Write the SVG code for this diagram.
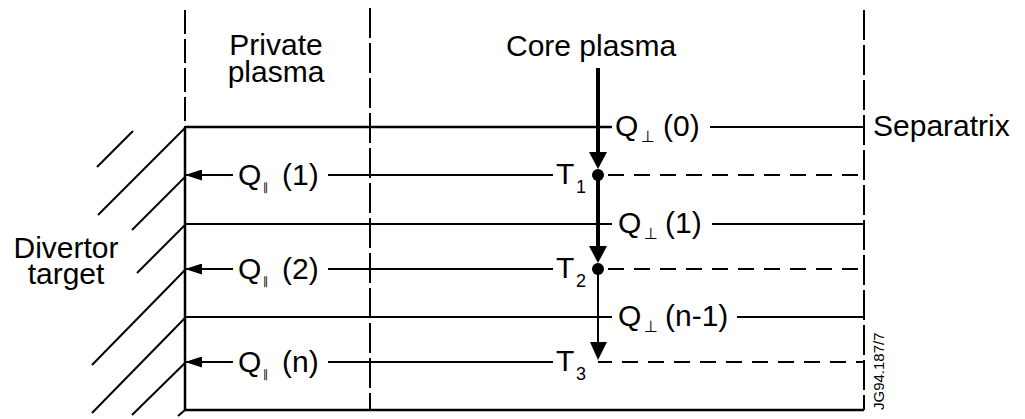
<svg xmlns="http://www.w3.org/2000/svg" width="1025" height="419" viewBox="0 0 1025 419">
<style>
.t{font-family:"Liberation Sans",Arial,sans-serif;font-size:30px;fill:#000}
.sub{font-family:"DejaVu Sans",sans-serif;font-size:16px;fill:#000}
.par{font-family:"DejaVu Sans",sans-serif;font-size:11px;fill:#000}
.ts{font-size:18px;fill:#000}
.s{stroke:#000;fill:none;stroke-width:2}
.sep{stroke:#000;fill:none;stroke-width:2.5}
.dv{stroke:#000;fill:none;stroke-width:2;stroke-dasharray:24 5}
.dh{stroke:#000;fill:none;stroke-width:2;stroke-dasharray:16 10}
</style>
<defs>
<marker id="ah" viewBox="0 0 17 11" refX="16" refY="5.5" markerWidth="17" markerHeight="11" markerUnits="userSpaceOnUse" orient="auto">
<path d="M0,0 L17,5.5 L0,11 Z" fill="#000"/>
</marker>
</defs>

<g id="hatching" class="s">
<line x1="97" y1="167" x2="133" y2="131"/>
<line x1="98" y1="215" x2="185" y2="128"/>
<line x1="132" y1="230" x2="185" y2="177"/>
<line x1="137" y1="273" x2="185" y2="225"/>
<line x1="92" y1="365" x2="185" y2="270"/>
<line x1="92" y1="413" x2="185" y2="318"/>
<line x1="132" y1="415" x2="185" y2="363"/>
<line x1="178" y1="416" x2="185" y2="410"/>
</g>

<g id="boundaries">
<line class="dv" x1="185" y1="10" x2="185" y2="127"/>
<line class="sep" x1="185" y1="127" x2="185" y2="411"/>
<line class="dv" x1="370" y1="8" x2="370" y2="410" style="stroke-dasharray:30 5"/>
<line class="dv" x1="864" y1="10" x2="864" y2="410" style="stroke-dasharray:30 5"/>
</g>

<g id="labels">
<text class="t" text-anchor="middle"><tspan x="276" y="55">Private</tspan><tspan x="276" dy="27">plasma</tspan></text>
<text class="t" x="506" y="56">Core plasma</text>
<text class="t" x="873" y="136">Separatrix</text>
<text class="t" text-anchor="middle"><tspan x="66" y="258">Divertor</tspan><tspan x="66" dy="26">target</tspan></text>
<text class="t" transform="translate(884,410) rotate(-90)" style="font-size:15px">JG94.187/7</text>
</g>

<g id="connectors">
<line class="sep" x1="185" y1="127" x2="612" y2="127"/>
<line class="s" x1="710" y1="127" x2="864" y2="127"/>
<line class="s" x1="185" y1="224" x2="612" y2="224"/>
<line class="s" x1="712" y1="224" x2="864" y2="224"/>
<line class="s" x1="185" y1="317" x2="612" y2="317"/>
<line class="s" x1="737" y1="317" x2="864" y2="317"/>
<line class="sep" x1="185" y1="410" x2="864" y2="410"/>
<line class="s" x1="233" y1="175" x2="186" y2="175" marker-end="url(#ah)"/>
<line class="s" x1="328" y1="175" x2="553" y2="175"/>
<line class="dh" x1="608" y1="175" x2="864" y2="175"/>
<line class="s" x1="233" y1="269" x2="186" y2="269" marker-end="url(#ah)"/>
<line class="s" x1="328" y1="269" x2="553" y2="269"/>
<line class="dh" x1="608" y1="269" x2="864" y2="269"/>
<line class="s" x1="233" y1="362" x2="186" y2="362" marker-end="url(#ah)"/>
<line class="s" x1="328" y1="362" x2="553" y2="362"/>
<line class="s" x1="598" y1="362" x2="612" y2="362"/>
<line class="dh" x1="622" y1="362" x2="864" y2="362"/>
<line x1="598" y1="68" x2="598" y2="156" stroke="#000" stroke-width="4"/>
<polygon points="589,152 607,152 598,169" fill="#000"/>
<circle cx="598" cy="175" r="6" fill="#000"/>
<line x1="598" y1="175" x2="598" y2="248" stroke="#000" stroke-width="4"/>
<polygon points="589,246 607,246 598,263" fill="#000"/>
<circle cx="598" cy="269" r="6" fill="#000"/>
<line x1="598" y1="269" x2="598" y2="344" stroke="#000" stroke-width="2"/>
<polygon points="590,342 607,342 598,360" fill="#000"/>
</g>

<g id="node-q-perp-0">
<text class="t" y="136"><tspan x="615">Q</tspan><tspan class="sub" x="641" y="142">⊥</tspan><tspan x="663" y="136">(0)</tspan></text>
</g>
<g id="node-q-perp-1">
<text class="t" y="233"><tspan x="618">Q</tspan><tspan class="sub" x="644" y="239">⊥</tspan><tspan x="665" y="233">(1)</tspan></text>
</g>
<g id="node-q-perp-n1">
<text class="t" y="326"><tspan x="618">Q</tspan><tspan class="sub" x="644" y="332">⊥</tspan><tspan x="665" y="326">(n-1)</tspan></text>
</g>
<g id="node-q-par-1">
<text class="t" y="185"><tspan x="238">Q</tspan><tspan class="par" x="263" y="191">∥</tspan><tspan x="282" y="185">(1)</tspan></text>
</g>
<g id="node-q-par-2">
<text class="t" y="279"><tspan x="238">Q</tspan><tspan class="par" x="263" y="285">∥</tspan><tspan x="282" y="279">(2)</tspan></text>
</g>
<g id="node-q-par-n">
<text class="t" y="372"><tspan x="238">Q</tspan><tspan class="par" x="263" y="378">∥</tspan><tspan x="282" y="372">(n)</tspan></text>
</g>
<g id="node-t1">
<text class="t" y="184"><tspan x="556">T</tspan><tspan class="ts" x="576" y="193">1</tspan></text>
</g>
<g id="node-t2">
<text class="t" y="278"><tspan x="556">T</tspan><tspan class="ts" x="576" y="287">2</tspan></text>
</g>
<g id="node-t3">
<text class="t" y="371"><tspan x="556">T</tspan><tspan class="ts" x="576" y="380">3</tspan></text>
</g>
</svg>
